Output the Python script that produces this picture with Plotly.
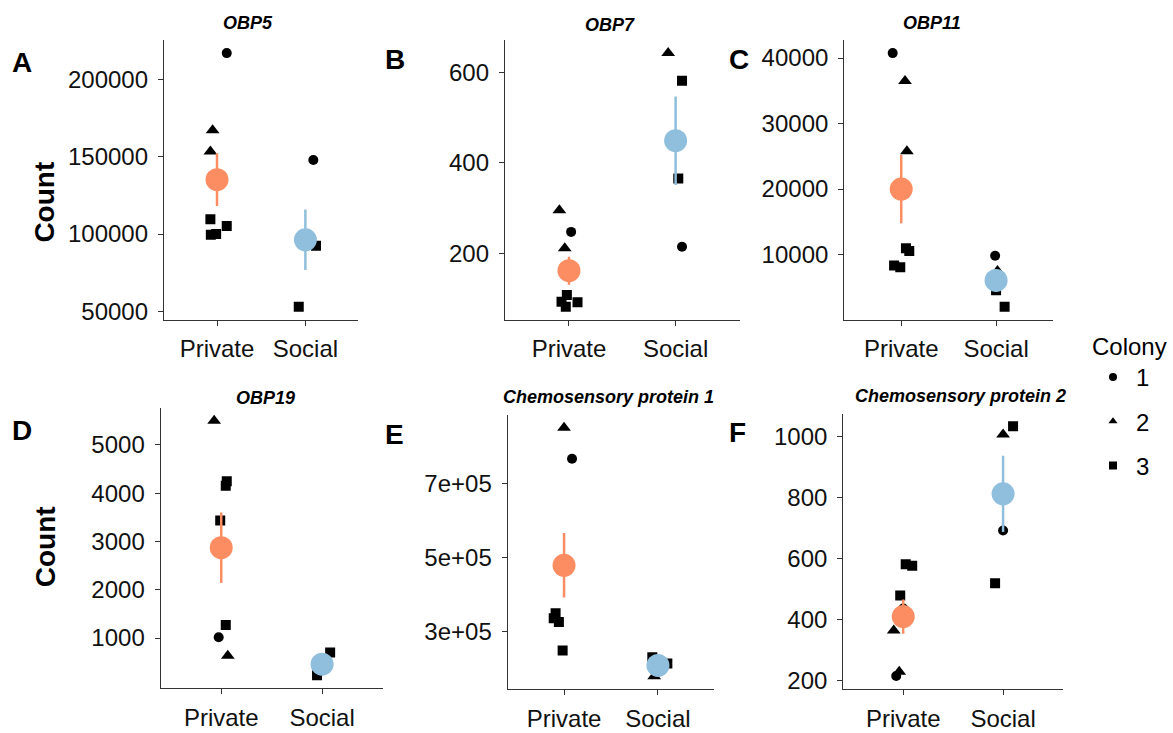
import plotly.graph_objects as go

W, H = 1173, 733

groups = ["Private", "Social"]
colony_names = ["1", "2", "3"]
panel_letters = ["A", "B", "C", "D", "E", "F"]
gene_titles = ["OBP5", "OBP7", "OBP11", "OBP19",
               "Chemosensory protein 1", "Chemosensory protein 2"]

# ---- raw observations per gene: group (0=Private, 1=Social), colony, count, jitter ----
obp5_group = [0, 0, 0, 0, 0, 0, 0, 1, 1, 1]
obp5_colony = [1, 2, 2, 3, 3, 3, 3, 1, 3, 3]
obp5_count = [216900, 167000, 153300, 109500, 99500, 100000, 105250, 147800, 92500, 53000]
obp5_jitter = [0.11, -0.05, -0.075, -0.075, -0.07, -0.01, 0.11, 0.09, 0.12, -0.075]

obp7_group = [0, 0, 0, 0, 0, 0, 0, 1, 1, 1, 1]
obp7_colony = [2, 1, 2, 3, 3, 3, 3, 2, 3, 3, 1]
obp7_count = [295, 247, 211, 107, 92, 81, 91, 643, 582, 365, 214]
obp7_jitter = [-0.09, 0.02, -0.04, -0.02, -0.07, -0.03, 0.08, -0.07, 0.06, 0.025, 0.06]

obp11_group = [0, 0, 0, 0, 0, 0, 0, 1, 1, 1, 1]
obp11_colony = [1, 2, 2, 3, 3, 3, 3, 1, 2, 3, 3]
obp11_count = [40750, 36500, 25760, 10950, 10545, 8320, 8080, 9835, 7500, 4540, 2030]
obp11_jitter = [-0.09, 0.04, 0.06, 0.05, 0.085, -0.075, -0.01, -0.01, 0.015, 0.0, 0.09]

obp19_group = [0, 0, 0, 0, 0, 0, 0, 1, 1, 1]
obp19_colony = [2, 3, 3, 3, 3, 1, 2, 3, 2, 3]
obp19_count = [5500, 4244, 4154, 3431, 1271, 1015, 633, 702, 440, 230]
obp19_jitter = [-0.07, 0.055, 0.045, -0.01, 0.045, -0.025, 0.065, 0.08, 0.0, -0.05]

csp1_group = [0, 0, 0, 0, 0, 0, 1, 1, 1, 1]
csp1_colony = [2, 1, 3, 3, 3, 3, 3, 3, 2, 1]
csp1_count = [850000, 766600, 349500, 336200, 326400, 249100, 231000, 214000, 180000, 210000]
csp1_jitter = [0.0, 0.085, -0.09, -0.11, -0.055, -0.015, -0.06, 0.1, -0.04, 0.02]

csp2_group = [0, 0, 0, 0, 0, 0, 0, 1, 1, 1, 1]
csp2_colony = [3, 3, 3, 1, 2, 2, 1, 3, 2, 1, 3]
csp2_count = [580, 575, 478, 435, 363, 228, 214, 1032, 1005, 691, 518]
csp2_jitter = [0.025, 0.09, -0.03, 0.0, -0.095, -0.04, -0.07, 0.1, 0.0, 0.0, -0.08]

# ---- group means and standard errors ----
mean_private = [135150, 161, 20000, 2870, 479000, 409]
mean_social = [96300, 449, 6050, 460, 209000, 811]
se_private = [17000, 31, 5200, 730, 87000, 56]
se_social = [19500, 98, 1700, 100, 12000, 125]

# ---- y-axis ticks ----
ytick_vals = [[50000, 100000, 150000, 200000], [200, 400, 600],
              [10000, 20000, 30000, 40000], [1000, 2000, 3000, 4000, 5000],
              [300000, 500000, 700000], [200, 400, 600, 800, 1000]]
ytick_text = [["50000", "100000", "150000", "200000"], ["200", "400", "600"],
              ["10000", "20000", "30000", "40000"], ["1000", "2000", "3000", "4000", "5000"],
              ["3e+05", "5e+05", "7e+05"], ["200", "400", "600", "800", "1000"]]

genes = [
    (obp5_group, obp5_colony, obp5_count, obp5_jitter),
    (obp7_group, obp7_colony, obp7_count, obp7_jitter),
    (obp11_group, obp11_colony, obp11_count, obp11_jitter),
    (obp19_group, obp19_colony, obp19_count, obp19_jitter),
    (csp1_group, csp1_colony, csp1_count, csp1_jitter),
    (csp2_group, csp2_colony, csp2_count, csp2_jitter),
]

# ---- styling / layout ----
FONT = "Liberation Sans, Arial, sans-serif"
symbols = {1: "circle", 2: "triangle-up", 3: "square"}
sizes = {1: 10, 2: 12, 3: 10}
group_colors = ["#FC8D62", "#8FBFDC"]
AX = "#333333"
TICK_SIZE = 24

# panel boxes in pixels: (left, right, top, bottom)
panel_px = [(164, 358.4, 40.7, 321.7), (505, 739.6, 40.7, 321.7), (844.3, 1053, 40.7, 321.7),
            (160.7, 382.6, 410.7, 692.7), (507.7, 714.3, 418.3, 693.3), (843.3, 1063, 416.7, 693.3)]
letter_px = [(22, 63), (395, 60), (739, 60), (22, 433), (394, 437), (738, 435)]
title_px = [(248, 23), (610, 25), (932, 23), (265, 401), (608, 400), (960, 399)]

fig = go.Figure()
annotations = []
layout = {}

for i, (grp, col, cnt, jit) in enumerate(genes):
    n = i + 1
    xa = "x" if n == 1 else f"x{n}"
    ya = "y" if n == 1 else f"y{n}"
    # raw points by colony
    for c in (1, 2, 3):
        xs = [g + 1 + j for g, cc, j in zip(grp, col, jit) if cc == c]
        ys = [v for cc, v in zip(col, cnt) if cc == c]
        fig.add_trace(go.Scatter(
            x=xs, y=ys, mode="markers", xaxis=xa, yaxis=ya,
            marker=dict(symbol=symbols[c], size=sizes[c], color="black", line=dict(width=0)),
            showlegend=False, hoverinfo="y"))
    # means with SE bars
    means = [mean_private[i], mean_social[i]]
    ses = [se_private[i], se_social[i]]
    for g in (0, 1):
        fig.add_trace(go.Scatter(
            x=[g + 1], y=[means[g]], mode="markers", xaxis=xa, yaxis=ya,
            marker=dict(symbol="circle", size=23, color=group_colors[g], line=dict(width=0)),
            error_y=dict(type="data", array=[ses[g]], width=0, thickness=2.5, color=group_colors[g]),
            showlegend=False, hoverinfo="y"))

    # y range: data extent +/- 5% (ggplot style)
    lo = min(min(cnt), means[0] - ses[0], means[1] - ses[1])
    hi = max(max(cnt), means[0] + ses[0], means[1] + ses[1])
    pad = (hi - lo) * 0.05
    l, r, t, b = panel_px[i]
    common = dict(showline=True, linecolor=AX, linewidth=1.3, ticks="outside", ticklen=5,
                  tickcolor=AX, tickwidth=1.3, showgrid=False, zeroline=False,
                  tickfont=dict(family=FONT, size=TICK_SIZE, color="#111111"))
    layout["xaxis" if n == 1 else f"xaxis{n}"] = dict(
        domain=[l / W, r / W], anchor=ya, range=[0.4, 2.6],
        tickvals=[1, 2], ticktext=groups, ticklabelstandoff=3, **common)
    layout["yaxis" if n == 1 else f"yaxis{n}"] = dict(
        domain=[1 - b / H, 1 - t / H], anchor=xa, range=[lo - pad, hi + pad],
        tickvals=ytick_vals[i], ticktext=ytick_text[i], ticklabelstandoff=5, **common)

    lx, ly = letter_px[i]
    annotations.append(dict(text=f"<b>{panel_letters[i]}</b>", x=lx / W, y=1 - ly / H,
                            xref="paper", yref="paper", xanchor="center", yanchor="middle",
                            showarrow=False, font=dict(family=FONT, size=28, color="black")))
    tx, ty = title_px[i]
    annotations.append(dict(text=f"<b><i>{gene_titles[i]}</i></b>", x=tx / W, y=1 - ty / H,
                            xref="paper", yref="paper", xanchor="center", yanchor="middle",
                            showarrow=False, font=dict(family=FONT, size=18, color="black")))

for cy in (204, 551):
    annotations.append(dict(text="<b>Count</b>", x=45 / W, y=1 - cy / H, textangle=-90,
                            xref="paper", yref="paper", xanchor="center", yanchor="middle",
                            showarrow=False, font=dict(family=FONT, size=28, color="black")))

# legend entries
for c in (1, 2, 3):
    fig.add_trace(go.Scatter(
        x=[None], y=[None], mode="markers", name=colony_names[c - 1], legendgroup=str(c),
        marker=dict(symbol=symbols[c], size=8, color="black"), showlegend=True))

fig.update_layout(
    width=W, height=H, margin=dict(l=0, r=0, t=0, b=0),
    paper_bgcolor="white", plot_bgcolor="white",
    font=dict(family=FONT, color="black"),
    annotations=annotations,
    legend=dict(title=dict(text="Colony", font=dict(family=FONT, size=24)),
                font=dict(family=FONT, size=24), x=1090 / W, y=1 - 326 / H,
                xanchor="left", yanchor="top", tracegroupgap=10, itemwidth=36,
                bgcolor="rgba(0,0,0,0)"),
    **layout)

fig.write_html("out.html")
